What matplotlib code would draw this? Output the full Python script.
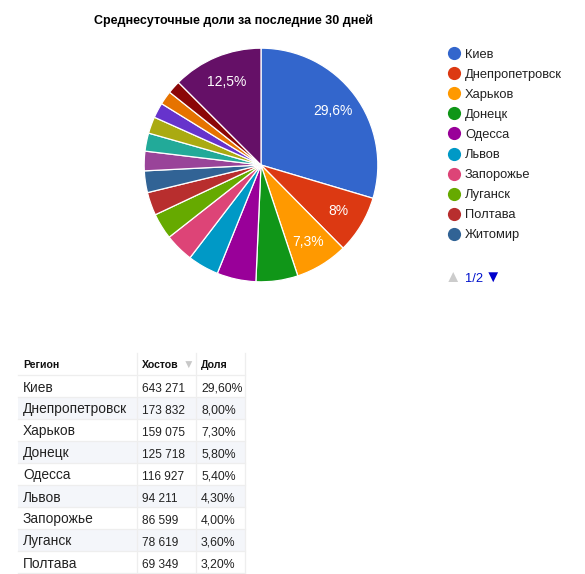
import matplotlib
matplotlib.use("Agg")
import matplotlib.pyplot as plt
from matplotlib.patches import Rectangle

plt.rcParams['font.family'] = ['Liberation Sans', 'DejaVu Sans']

# ---- data ----
regions = ["Киев", "Днепропетровск", "Харьков", "Донецк", "Одесса", "Львов",
           "Запорожье", "Луганск", "Полтава", "Житомир",
           "r11", "r12", "r13", "r14", "r15", "r16", "Другие"]
shares = [29.6, 8.0, 7.3, 5.8, 5.4, 4.3, 4.0, 3.6, 3.2, 3.0,
          2.7, 2.5, 2.3, 2.1, 1.9, 1.8, 12.5]
pie_labels = ["29,6%", "8%", "7,3%", "", "", "", "", "", "", "",
              "", "", "", "", "", "", "12,5%"]
colors = ["#3366cc", "#dc3912", "#ff9900", "#109618", "#990099", "#0099c6",
          "#dd4477", "#66aa00", "#b82e2e", "#316395", "#994499", "#22aa99",
          "#aaaa11", "#6633cc", "#e67300", "#8b0707", "#651067"]
legend_items = regions[:10]

title = "Среднесуточные доли за последние 30 дней"

table_header = ["Регион", "Хостов", "Доля"]
table_regions = ["Киев", "Днепропетровск", "Харьков", "Донецк", "Одесса",
                 "Львов", "Запорожье", "Луганск", "Полтава"]
table_hosts = ["643 271", "173 832", "159 075", "125 718", "116 927",
               "94 211", "86 599", "78 619", "69 349"]
table_share = ["29,60%", "8,00%", "7,30%", "5,80%", "5,40%", "4,30%",
               "4,00%", "3,60%", "3,20%"]

W, H = 585, 574
fig = plt.figure(figsize=(W / 100, H / 100), dpi=100)
fig.patch.set_facecolor("white")

# ---- pie ----
cx, cy, R = 261, 165, 118
ax = fig.add_axes([(cx - R) / W, 1 - (cy + R) / H, 2 * R / W, 2 * R / H])
wedges, texts = ax.pie(shares, colors=colors, startangle=90, counterclock=False,
                       labels=pie_labels, labeldistance=0.77,
                       wedgeprops=dict(edgecolor="white", linewidth=0.9),
                       textprops=dict(color="white", fontsize=10, ha="center", va="center"))
for t in texts:
    t.set_ha("center")
ax.set_xlim(-1.01, 1.01)
ax.set_ylim(-1.01, 1.01)
ax.set_aspect("equal")
ax.axis("off")

# ---- overlay in pixel coords ----
ov = fig.add_axes([0, 0, 1, 1], zorder=-1)
ov.set_xlim(0, W)
ov.set_ylim(H, 0)
ov.axis("off")
ov2 = fig.add_axes([0, 0, 1, 1], zorder=5)
ov2.set_xlim(0, W)
ov2.set_ylim(H, 0)
ov2.axis("off")
ov2.patch.set_alpha(0)

ov2.text(233, 24, title, fontsize=9.0, fontweight="bold", ha="center", va="baseline", color="#000000")

# legend
for i, name in enumerate(legend_items):
    y = 53 + 20.1 * i
    ov2.plot([454], [y], marker="o", markersize=9.5, color=colors[i], markeredgewidth=0)
    ov2.text(465, y + 4.5, name, fontsize=9.3, ha="left", va="baseline", color="#222222")

# pagination
ov2.text(453, 282, "▲", fontsize=12, ha="center", va="baseline", color="#cccccc")
ov2.text(465, 282, "1/2", fontsize=9.3, ha="left", va="baseline", color="#0011cc")
ov2.text(493, 282, "▼", fontsize=12, ha="center", va="baseline", color="#0000cc")

# table
x0, x1, x2, x3 = 18, 137, 196, 245
top = 353
hdr_bot = 375
rh = 22
n = len(table_regions)
bottom = hdr_bot + rh * n
for i in range(n):
    yb = hdr_bot + rh * i
    fc = "#f4f6fa" if i % 2 == 1 else "white"
    ov.add_patch(Rectangle((x0, yb), x3 - x0, rh, facecolor=fc, edgecolor="none"))
# lines
for i in range(n + 1):
    yb = hdr_bot + rh * i
    ov.plot([x0, x3], [yb, yb], color="#eeeeee", lw=0.9)
for xv in (x1, x2, x3):
    ov.plot([xv, xv], [top, bottom], color="#eeeeee", lw=0.9)

hy = 368.5
ov2.text(23, hy, table_header[0], fontsize=7.6, fontweight="bold", ha="left", va="baseline", color="#111111")
ov2.text(142, hy, table_header[1], fontsize=7.6, fontweight="bold", ha="left", va="baseline", color="#111111")
ov2.text(188, hy, "▼", fontsize=8.5, ha="center", va="baseline", color="#c8c8c8")
ov2.text(201, hy, table_header[2], fontsize=7.6, fontweight="bold", ha="left", va="baseline", color="#111111")

for i in range(n):
    yb = hdr_bot + rh * i + 16.5
    ov2.text(23, yb, table_regions[i], fontsize=9.9, ha="left", va="baseline", color="#222222")
    ov2.text(142, yb, table_hosts[i], fontsize=8.6, ha="left", va="baseline", color="#222222")
    ov2.text(201, yb, table_share[i], fontsize=8.8, ha="left", va="baseline", color="#222222")

fig.savefig("out.png", dpi=100, facecolor="white")
